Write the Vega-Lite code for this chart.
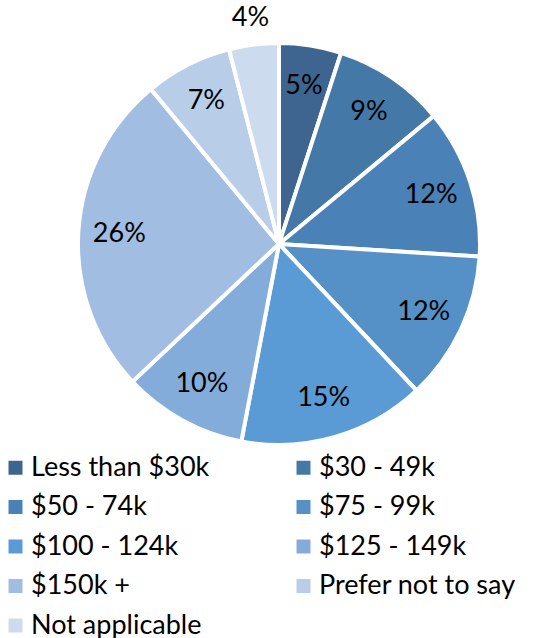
{
  "$schema": "https://vega.github.io/schema/vega-lite/v6.json",
  "width": 558,
  "height": 488,
  "padding": 0,
  "background": "white",
  "config": {"view": {"stroke": null}, "font": "Lato"},
  "data": {"values": [
    {"i": 1, "cat": "Less than $30k", "v": 0.05},
    {"i": 2, "cat": "$30 - 49k", "v": 0.09},
    {"i": 3, "cat": "$50 - 74k", "v": 0.12},
    {"i": 4, "cat": "$75 - 99k", "v": 0.12},
    {"i": 5, "cat": "$100 - 124k", "v": 0.15},
    {"i": 6, "cat": "$125 - 149k", "v": 0.10},
    {"i": 7, "cat": "$150k +", "v": 0.26},
    {"i": 8, "cat": "Prefer not to say", "v": 0.07},
    {"i": 9, "cat": "Not applicable", "v": 0.04}
  ]},
  "encoding": {
    "theta": {"field": "v", "type": "quantitative", "stack": true},
    "order": {"field": "i", "type": "quantitative"}
  },
  "layer": [
    {
      "mark": {"type": "arc", "outerRadius": 201, "stroke": "white", "strokeWidth": 4},
      "encoding": {
        "color": {
          "field": "cat", "type": "nominal",
          "sort": ["Less than $30k", "$30 - 49k", "$50 - 74k", "$75 - 99k", "$100 - 124k", "$125 - 149k", "$150k +", "Prefer not to say", "Not applicable"],
          "scale": {
            "domain": ["Less than $30k", "$30 - 49k", "$50 - 74k", "$75 - 99k", "$100 - 124k", "$125 - 149k", "$150k +", "Prefer not to say", "Not applicable"],
            "range": ["#3d6590", "#4479a7", "#4a82b8", "#5591c7", "#5b9bd5", "#84acdb", "#a2bde2", "#b8cde8", "#cddbef"]
          },
          "legend": {
            "orient": "none", "legendX": 2, "legendY": 454,
            "columns": 2, "direction": "horizontal", "title": null,
            "symbolType": "square", "symbolSize": 196, "symbolStrokeWidth": 0,
            "labelFontSize": 27, "labelFont": "Lato", "labelColor": "black",
            "labelOffset": 2, "rowPadding": 11.5, "columnPadding": 80,
            "padding": 0, "labelLimit": 400
          }
        }
      }
    },
    {
      "mark": {"type": "text", "radius": 160, "fontSize": 27, "font": "Lato", "color": "black"},
      "encoding": {
        "text": {"field": "v", "type": "quantitative", "format": ".0%"},
        "detail": {"field": "cat", "type": "nominal"},
        "opacity": {"condition": {"test": "datum.cat === 'Not applicable'", "value": 0}, "value": 1}
      }
    },
    {
      "mark": {"type": "text", "radius": 228, "fontSize": 27, "font": "Lato", "color": "black"},
      "encoding": {
        "text": {"field": "v", "type": "quantitative", "format": ".0%"},
        "detail": {"field": "cat", "type": "nominal"},
        "opacity": {"condition": {"test": "datum.cat === 'Not applicable'", "value": 1}, "value": 0}
      }
    }
  ]
}
